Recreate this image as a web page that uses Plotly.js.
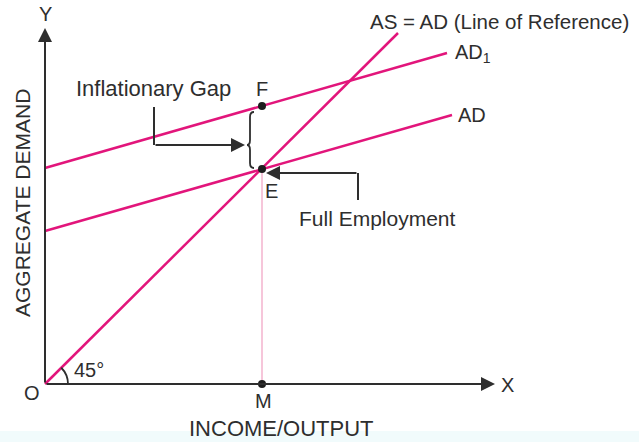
<!DOCTYPE html>
<html>
<head>
<meta charset="utf-8">
<script src="https://cdn.plot.ly/plotly-3.0.1.min.js"></script>
<style>html,body{margin:0;padding:0;background:#fff;}#chart{width:639px;height:442px;}</style>
</head>
<body>
<div id="chart"></div>
<script>
// Diagram values (income/output on x, aggregate demand on y)
const asX = [0, 353];
const asY = [0, 351];
const ad1X = [0, 402];
const ad1Y = [216, 331];
const adX = [0, 407];
const adY = [153, 269];
const pointNames = ['E', 'F', 'M'];
const pointX = [217, 217, 217];
const pointY = [215, 278, 0];
const lineLabels = ['AS = AD (Line of Reference)', 'AD<sub>1</sub>', 'AD'];

const MAG = '#e2157b';
const INK = '#2e2e2e';
const FONT = 'Liberation Sans, Arial, sans-serif';

const traces = [
  {x: asX, y: asY, mode: 'lines', line: {color: MAG, width: 2.5}, hoverinfo: 'skip'},
  {x: ad1X, y: ad1Y, mode: 'lines', line: {color: MAG, width: 2.5}, hoverinfo: 'skip'},
  {x: adX, y: adY, mode: 'lines', line: {color: MAG, width: 2.5}, hoverinfo: 'skip'},
  {x: [pointX[0], pointX[2]], y: [pointY[0], pointY[2]], mode: 'lines', line: {color: '#f0a0c2', width: 1.2}, hoverinfo: 'skip'},
  {x: pointX, y: pointY, mode: 'markers', marker: {color: '#1e1e1e', size: 8}, hoverinfo: 'skip'}
];

function txt(text, x, y, size, opts) {
  return Object.assign({x: x, y: y, xref: 'x', yref: 'y', text: text, showarrow: false,
    font: {family: FONT, size: size, color: INK}, xanchor: 'center', yanchor: 'middle'}, opts || {});
}
function arrow(x, y, ax, ay, w) {
  return {x: x, y: y, ax: ax, ay: ay, xref: 'x', yref: 'y', axref: 'x', ayref: 'y', text: '',
    showarrow: true, arrowhead: 2, arrowsize: 1.4, arrowwidth: w || 2, arrowcolor: INK};
}

const E = {x: pointX[0], y: pointY[0]};
const F = {x: pointX[1], y: pointY[1]};
const M = {x: pointX[2], y: pointY[2]};

const annotations = [
  // axes
  arrow(0, 356, 0, 0, 2),
  arrow(450, 0, 0, 0, 2),
  txt('Y', 0, 370, 20),
  txt('X', 462, -1, 20),
  txt('O', -13, -9, 20),
  txt('45°', 44, 14, 20),
  txt('INCOME/OUTPUT', 236, -44, 22),
  txt('AGGREGATE DEMAND', -23, 181, 21, {textangle: -90}),
  // line labels
  txt(lineLabels[0], 323, 363, 20.5, {xanchor: 'left'}),
  txt(lineLabels[1], 408, 331, 20, {xanchor: 'left'}),
  txt(lineLabels[2], 411, 269, 20, {xanchor: 'left'}),
  // points
  txt(pointNames[1], F.x, F.y + 17, 20),
  txt(pointNames[0], E.x + 9, E.y - 22, 20),
  txt(pointNames[2], M.x + 1, M.y - 17, 20),
  // callouts
  txt('Inflationary Gap', 108, 296, 22),
  arrow(200, 239, 109, 239, 2),
  txt('Full Employment', 252, 166, 21, {xanchor: 'left'}),
  arrow(221, 211, 313, 211, 2)
];

const shapes = [
  {type: 'rect', xref: 'paper', yref: 'paper', x0: 0, x1: 1, y0: 0, y1: 11/442, fillcolor: '#f1fbfc', line: {width: 0}, layer: 'below'},
  {type: 'line', xref: 'x', yref: 'y', x0: 109, y0: 277, x1: 109, y1: 239, line: {color: INK, width: 2}},
  {type: 'line', xref: 'x', yref: 'y', x0: 313, y0: 184, x1: 313, y1: 211, line: {color: INK, width: 2}},
  // brace for the gap
  {type: 'path', xref: 'x', yref: 'y', line: {color: INK, width: 1.8},
   path: 'M 209,272 Q 205,272 205,267 L 205,244 Q 205,239 202,239 Q 205,239 205,234 L 205,221 Q 205,216 209,216'},
  // 45 degree arc
  {type: 'path', xref: 'x', yref: 'y', line: {color: INK, width: 1.8},
   path: 'M 23,0 C 23,6.1 20.57,11.95 16.26,16.26'}
];

const layout = {
  width: 639, height: 442,
  margin: {l: 0, r: 0, t: 0, b: 0},
  paper_bgcolor: '#ffffff', plot_bgcolor: '#ffffff',
  showlegend: false,
  xaxis: {range: [-45, 594], visible: false, fixedrange: true},
  yaxis: {range: [-58, 384], visible: false, fixedrange: true},
  annotations: annotations,
  shapes: shapes
};

Plotly.newPlot('chart', traces, layout, {staticPlot: true, displayModeBar: false});
</script>
</body>
</html>
